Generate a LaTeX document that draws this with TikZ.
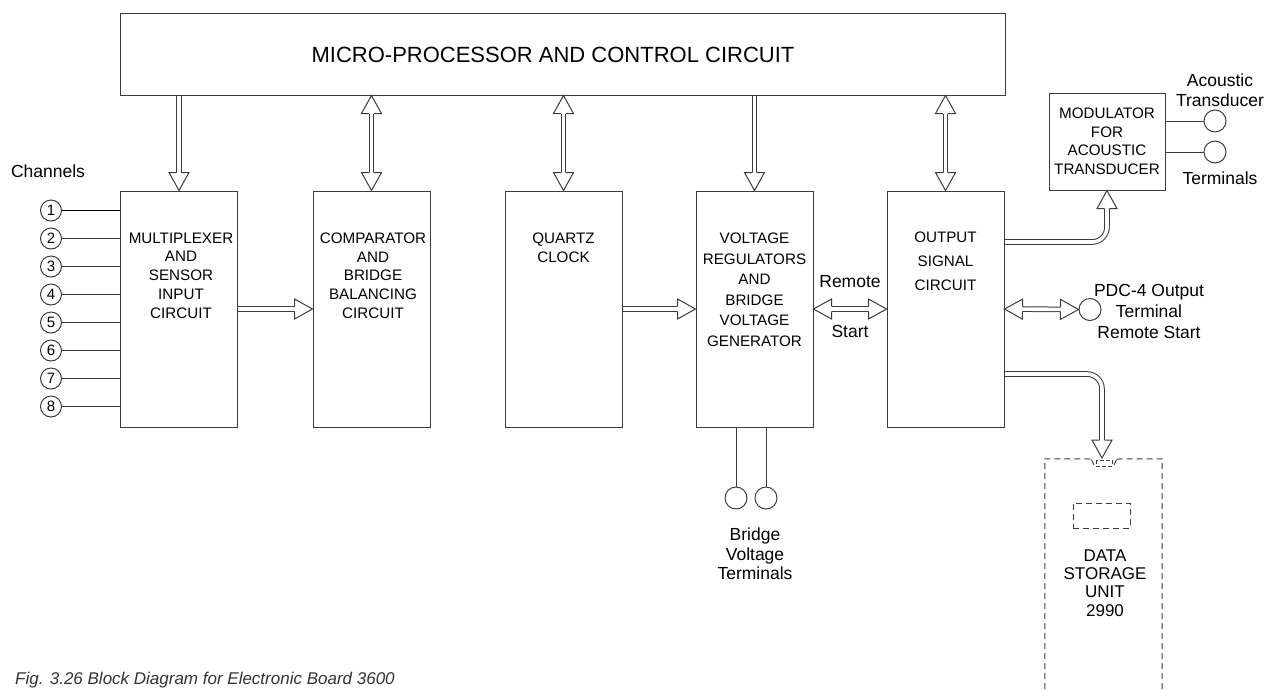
\documentclass[tikz,border=0pt]{standalone}
\usepackage{fontspec}
\setmainfont{Liberation Sans}
\usetikzlibrary{calc,backgrounds}
\definecolor{lc}{HTML}{3C3C3C}
\tikzset{
  blk/.style={draw=lc, line width=1pt, minimum width=117pt, minimum height=236pt, inner sep=0pt},
  btxt/.style={align=center, anchor=north, inner sep=0pt, font=\fontsize{15.2}{18.7}\selectfont},
  lbl/.style={align=center, inner sep=0pt, font=\fontsize{17.5}{20.5}\selectfont},
  term/.style={circle, draw=lc, line width=1pt, minimum size=22pt, inner sep=0pt},
  chan/.style={circle, draw=lc, line width=1pt, minimum size=21pt, inner sep=0pt, font=\fontsize{15}{15}\selectfont},
  wire/.style={draw=lc, line width=1pt},
  shaft/.style={draw=lc, line width=1pt, double=white, double distance=3.6pt},
  head/.style={draw=lc, line width=1pt, line join=miter, fill=white},
  dsh/.style={draw=lc, line width=1pt, dash pattern=on 6pt off 4pt},
}
% arrow head: tip #1, pointing away from #2
\newcommand\ahead[2]{%
  \path ($(#1)!18pt!(#2)$) coordinate (hb);
  \draw[head] ($(hb)!2.3pt!90:(#1)$) -- ($(hb)!10pt!90:(#1)$) -- (#1) -- ($(hb)!10pt!-90:(#1)$) -- ($(hb)!2.3pt!-90:(#1)$);}
\newcommand\sarrow[2]{%
  \path ($(#2)!18pt!(#1)$) coordinate (sb);
  \draw[shaft] (#1) -- (sb);
  \ahead{#2}{#1}}
\newcommand\darrow[2]{%
  \path ($(#2)!18pt!(#1)$) coordinate (sb) ($(#1)!18pt!(#2)$) coordinate (sa);
  \draw[shaft] (sa) -- (sb);
  \ahead{#2}{#1}\ahead{#1}{#2}}
\begin{document}
\begin{tikzpicture}[x=1pt,y=-1pt]
\useasboundingbox (0,0) rectangle (1268,689);
\clip (0,0) rectangle (1268,689);

% main box
\node[blk, minimum width=885pt, minimum height=82pt] (mpu) at (562.5,54) {};
\node[inner sep=0pt, font=\fontsize{22}{24}\selectfont] (mput) at (553,55) {MICRO-PROCESSOR AND CONTROL CIRCUIT};

% blocks
\node[blk] (mux) at (179,309) {};
\node[blk] (cmp) at (371.5,309) {};
\node[blk] (qtz) at (563.5,309) {};
\node[blk] (vrg) at (754.5,309) {};
\node[blk] (out) at (945.5,309) {};

\node[btxt] (muxt) at (181,232.6) {MULTIPLEXER\\AND\\SENSOR\\INPUT\\CIRCUIT};
\node[btxt] (cmpt) at (373,232.6) {COMPARATOR\\AND\\BRIDGE\\BALANCING\\CIRCUIT};
\node[btxt] (qtzt) at (563.5,232.6) {QUARTZ\\CLOCK};
\node[btxt, font=\fontsize{15.2}{20.6}\selectfont] (vrgt) at (754.5,232.6) {VOLTAGE\\REGULATORS\\AND\\BRIDGE\\VOLTAGE\\GENERATOR};
\node[btxt, font=\fontsize{15.2}{24}\selectfont] (outt) at (945.5,231.6) {OUTPUT\\SIGNAL\\CIRCUIT};

% channels
\node[lbl] (chl) at (48,171) {Channels};
\foreach \i in {1,...,8}{
  \node[chan] (c\i) at (51,{210.5+28*(\i-1)}) {\i};
}
\draw[black, line width=1.4pt] (c1) -- (c1 -| mux.west);
\foreach \i in {2,...,8}{
  \draw[wire] (c\i) -- (c\i -| mux.west);
}

% modulator
\node[draw=lc, line width=1pt, minimum width=116pt, minimum height=97pt, inner sep=0pt, align=center, font=\fontsize{15.2}{18.5}\selectfont] (mod) at (1107,141.5) {MODULATOR\\FOR\\ACOUSTIC\\TRANSDUCER};
\node[term] (at1) at (1215,121) {};
\node[term] (at2) at (1215,152) {};
\draw[wire] (at1.west -| mod.east) -- (at1.west);
\draw[wire] (at2.west -| mod.east) -- (at2.west);
\node[lbl, font=\fontsize{17.5}{20}\selectfont] (att) at (1220,90) {Acoustic\\Transducer};
\node[lbl] (atb) at (1220,178) {Terminals};

% PDC terminal
\node[term] (pdc) at (1090,309.5) {};
\node[lbl, font=\fontsize{17.5}{21}\selectfont] (pdct) at (1149,311) {PDC-4 Output\\Terminal\\Remote Start};

% bridge voltage terminals
\node[term] (bv1) at (736,498) {};
\node[term] (bv2) at (766,498) {};
\draw[wire] (bv1.north |- vrg.south) -- (bv1.north);
\draw[wire] (bv2.north |- vrg.south) -- (bv2.north);
\node[lbl, font=\fontsize{17.5}{19.5}\selectfont] (bvt) at (755,554) {Bridge\\Voltage\\Terminals};

% remote start labels
\node[lbl] (rem) at (850,282) {Remote};
\node[lbl] (sta) at (850,331) {Start};

% data storage unit
\node[minimum width=117pt, minimum height=250pt, inner sep=0pt] (ds) at (1103.5,584) {};
\draw[dsh] (ds.south west) -- (ds.north west) -- (1091,459);
\draw[lc, line width=0.9pt] (1091.5,459.5) -- (1094,465);
\draw[lc, line width=0.9pt, dash pattern=on 4pt off 2pt] (1096,460) rectangle (1112,466);
\draw[lc, line width=0.9pt] (1114,465) -- (1116.5,459.5);
\draw[dsh] (ds.south east) -- (ds.north east) -- (1117,459);
\node[dsh, minimum width=57pt, minimum height=25pt, inner sep=0pt] (slot) at (1101.5,515.5) {};
\node[lbl, font=\fontsize{17}{18.2}\selectfont] (dst) at (1105,583) {DATA\\STORAGE\\UNIT\\2990};

% caption
\node[anchor=base west, inner sep=0pt, text=black!80, font=\itshape\fontsize{17}{20}\selectfont] (cap) at (15,684) {Fig. 3.26 Block Diagram for Electronic Board 3600};

% arrows
\begin{scope}[on background layer]
  \coordinate (a1) at (mux.north |- mpu.south);
  \sarrow{a1}{mux.north}
  \coordinate (a2) at (cmp.north |- mpu.south);
  \darrow{a2}{cmp.north}
  \coordinate (a3) at (qtz.north |- mpu.south);
  \darrow{a3}{qtz.north}
  \coordinate (a4) at (vrg.north |- mpu.south);
  \sarrow{a4}{vrg.north}
  \coordinate (a5) at (out.north |- mpu.south);
  \darrow{a5}{out.north}
  \sarrow{mux.east}{cmp.west}
  \sarrow{qtz.east}{vrg.west}
  \darrow{vrg.east}{out.west}
  \darrow{out.east}{pdc.west}
  % to modulator
  \coordinate (m0) at (1004,242);
  \coordinate (mt) at (mod.south);
  \coordinate (mb) at ($(mt)+(0,18)$);
  \draw[shaft, rounded corners=15pt] (m0) -| (mb);
  \ahead{mt}{mb}
  % to data storage
  \coordinate (d0) at (1004,374);
  \coordinate (dt) at (1102,458);
  \coordinate (db) at ($(dt)+(0,-18)$);
  \draw[shaft, rounded corners=15pt] (d0) -| (db);
  \ahead{dt}{db}
\end{scope}
\end{tikzpicture}
\end{document}
